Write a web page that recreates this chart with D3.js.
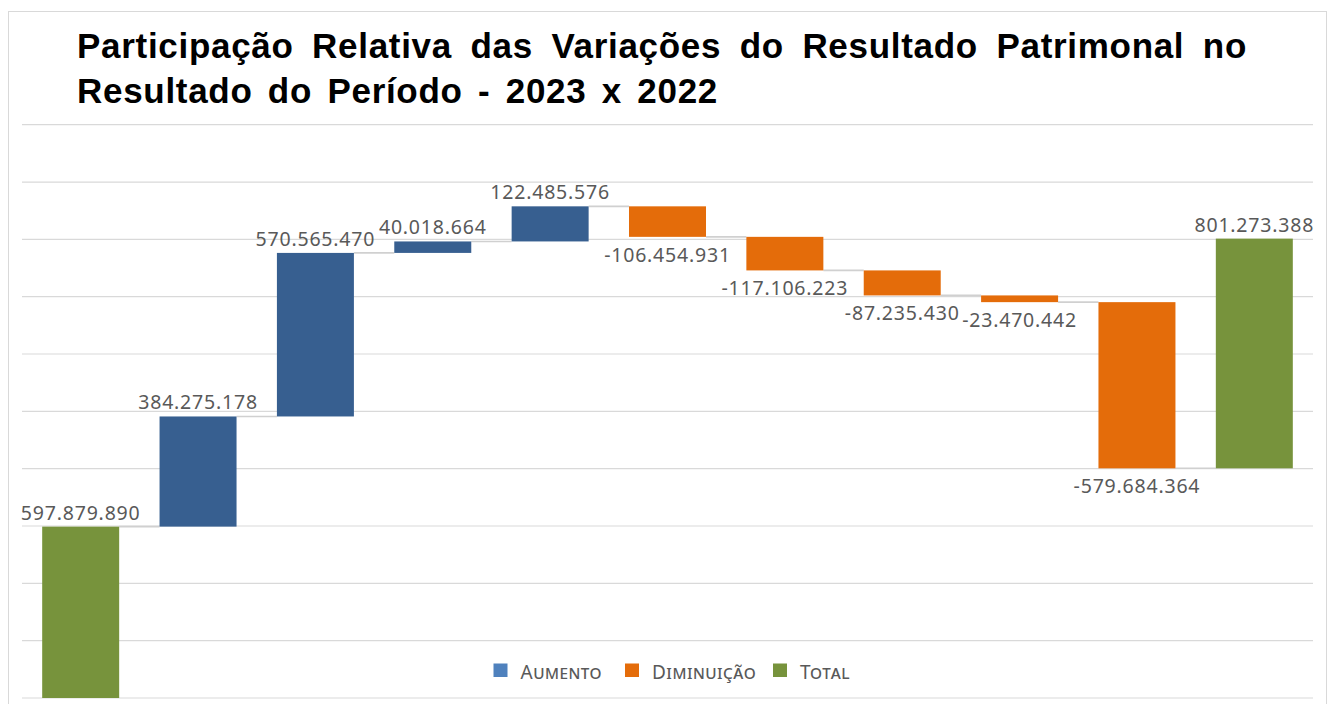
<!DOCTYPE html>
<html>
<head>
<meta charset="utf-8">
<script src="https://cdn.jsdelivr.net/npm/d3@7"></script>
<style>
  html, body { margin: 0; padding: 0; background: #ffffff; }
  svg { display: block; }
</style>
</head>
<body>
<svg id="chart" width="1333" height="704"></svg>
<script>
// ---- Data ----
const categories = ["Resultado 2022", "Variação 1", "Variação 2", "Variação 3", "Variação 4",
                    "Variação 5", "Variação 6", "Variação 7", "Variação 8", "Variação 9", "Resultado 2023"];
const values = [597879890, 384275178, 570565470, 40018664, 122485576,
                -106454931, -117106223, -87235430, -23470442, -579684364, 801273388];
const kinds = ["Total", "Aumento", "Aumento", "Aumento", "Aumento",
               "Diminuição", "Diminuição", "Diminuição", "Diminuição", "Diminuição", "Total"];
const yTicks = [0, 200000000, 400000000, 600000000, 800000000, 1000000000,
                1200000000, 1400000000, 1600000000, 1800000000, 2000000000];
const legendItems = ["Aumento", "Diminuição", "Total"];
const titleLines = ["Participação Relativa das Variações do Resultado Patrimonal no",
                    "Resultado do Período - 2023 x 2022"];

// ---- Styles ----
const barColor = { "Aumento": "#375f90", "Diminuição": "#e46c0a", "Total": "#77933c" };
const legendColor = { "Aumento": "#4f81bd", "Diminuição": "#e46c0a", "Total": "#77933c" };

const svg = d3.select("#chart");
const plot = { left: 22, right: 1313, top: 124.7, bottom: 698 };

// frame
svg.append("rect").attr("x", 8.5).attr("y", 11.5).attr("width", 1318).attr("height", 720)
  .attr("fill", "#fff").attr("stroke", "#d9d9d9").attr("stroke-width", 1);

// scales
const x = d3.scaleBand().domain(categories).range([plot.left, plot.right])
  .paddingInner(0.344).paddingOuter(0.172);
const y = d3.scaleLinear().domain([0, 2000000000]).range([plot.bottom, plot.top]);

// waterfall layout (stacked on running cumulative, as in the original)
let running = 0;
const bars = values.map((v, i) => {
  const start = running;
  const end = running + v;
  running = end;
  return { cat: categories[i], v, kind: kinds[i], lo: Math.min(start, end), hi: Math.max(start, end), end };
});

// gridlines
svg.append("g").selectAll("line").data(yTicks).join("line")
  .attr("x1", plot.left).attr("x2", plot.right)
  .attr("y1", d => y(d)).attr("y2", d => y(d))
  .attr("stroke", "#d9d9d9").attr("stroke-width", 1.2);

// connectors
svg.append("g").selectAll("line").data(bars.slice(0, -1)).join("line")
  .attr("x1", (d) => x(d.cat) + x.bandwidth())
  .attr("x2", (d, i) => x(categories[i + 1]))
  .attr("y1", d => y(d.end)).attr("y2", d => y(d.end))
  .attr("stroke", "#d0d0d0").attr("stroke-width", 1.6);

// bars
svg.append("g").selectAll("rect").data(bars).join("rect")
  .attr("x", d => x(d.cat)).attr("width", x.bandwidth())
  .attr("y", d => y(d.hi)).attr("height", d => y(d.lo) - y(d.hi))
  .attr("fill", d => barColor[d.kind]);

// labels
const fmt = v => (v < 0 ? "-" : "") + d3.format(",")(Math.abs(v)).replace(/,/g, ".");
svg.append("g").selectAll("text").data(bars).join("text")
  .attr("x", d => x(d.cat) + x.bandwidth() / 2)
  .attr("y", d => d.v >= 0 ? y(d.hi) - 7 : y(d.lo) + 25)
  .attr("text-anchor", "middle")
  .attr("font-family", "'Noto Sans', sans-serif")
  .attr("font-size", 19.5)
  .attr("letter-spacing", 0.8)
  .attr("fill", "#595959")
  .text(d => fmt(d.v));

// title (slight letter spacing plus extra word spacing, as in the original)
const titleTargets = [1170, 641];
const title = svg.append("g");
titleLines.forEach((line, i) => {
  const t = title.append("text").attr("x", 77).attr("y", 58.3 + i * 45)
    .attr("font-family", "'Liberation Sans', Arial, sans-serif").attr("font-weight", "bold")
    .attr("font-size", 35).attr("fill", "#000")
    .attr("letter-spacing", 0.7)
    .text(line);
  const natural = t.node().getComputedTextLength();
  const spaces = (line.match(/ /g) || []).length;
  const extra = Math.max(0, (titleTargets[i] - natural) / spaces);
  t.attr("word-spacing", extra);
});

// legend
const legendX = [493.5, 625, 773];
const lg = svg.append("g");
legendItems.forEach((k, i) => {
  lg.append("rect").attr("x", legendX[i]).attr("y", 663.5).attr("width", 14).attr("height", 13.5)
    .attr("fill", legendColor[k]);
  lg.append("text").attr("x", legendX[i] + 27).attr("y", 679)
    .attr("font-family", "'Noto Sans', sans-serif").attr("font-size", 19)
    .attr("letter-spacing", 0.5)
    .style("font-variant", "small-caps")
    .attr("fill", "#595959").text(k);
});
</script>
</body>
</html>
